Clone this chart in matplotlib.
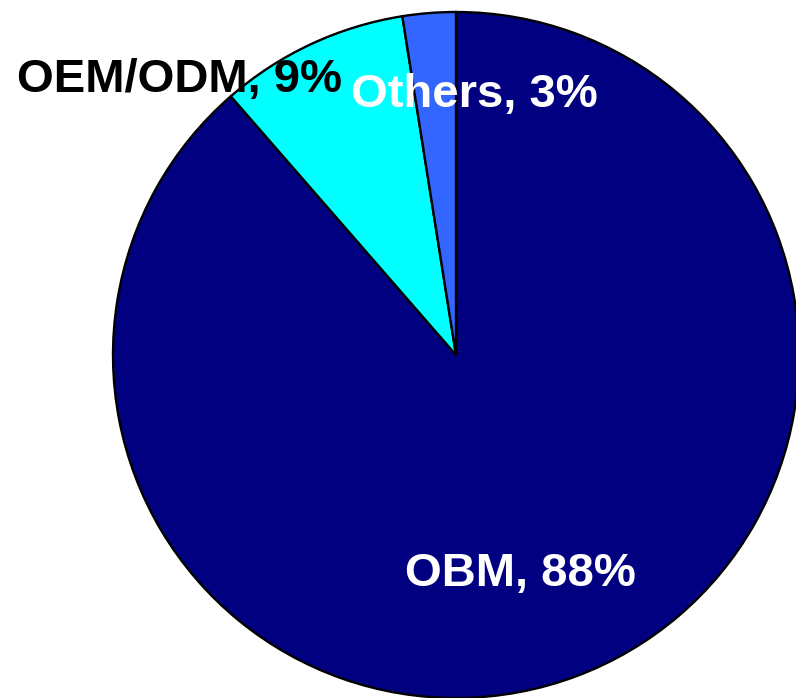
# Pie chart: share of production by business model

import matplotlib.pyplot as plt

# Data
labels = ['OBM, 88%', 'OEM/ODM, 9%', 'Others, 3%']
shares = [88.6, 8.9, 2.5]
colors = ['#000080', '#00FFFF', '#3366FF']

W, H = 796, 698
plt.rcParams['font.family'] = ['Liberation Sans', 'DejaVu Sans']

fig = plt.figure(figsize=(W / 100, H / 100), dpi=100)
ax = fig.add_axes([0, 0, 1, 1])

# pie centre / radius in pixel units
cx, cy, r = 456, H - 355, 343
ax.pie(shares, colors=colors, startangle=90, counterclock=False,
       center=(cx, cy), radius=r, frame=True,
       wedgeprops=dict(edgecolor='black', linewidth=1.7))
ax.set_xlim(0, W)
ax.set_ylim(0, H)
ax.axis('off')

# labels
ax.text(520, H - 574, labels[0], color='white', fontsize=34,
        fontweight='bold', ha='center', va='center')
ax.text(17, H - 80, labels[1], color='black', fontsize=34,
        fontweight='bold', ha='left', va='center')
ax.text(474, H - 95, labels[2], color='white', fontsize=34,
        fontweight='bold', ha='center', va='center')

fig.savefig('out.png', dpi=100)
